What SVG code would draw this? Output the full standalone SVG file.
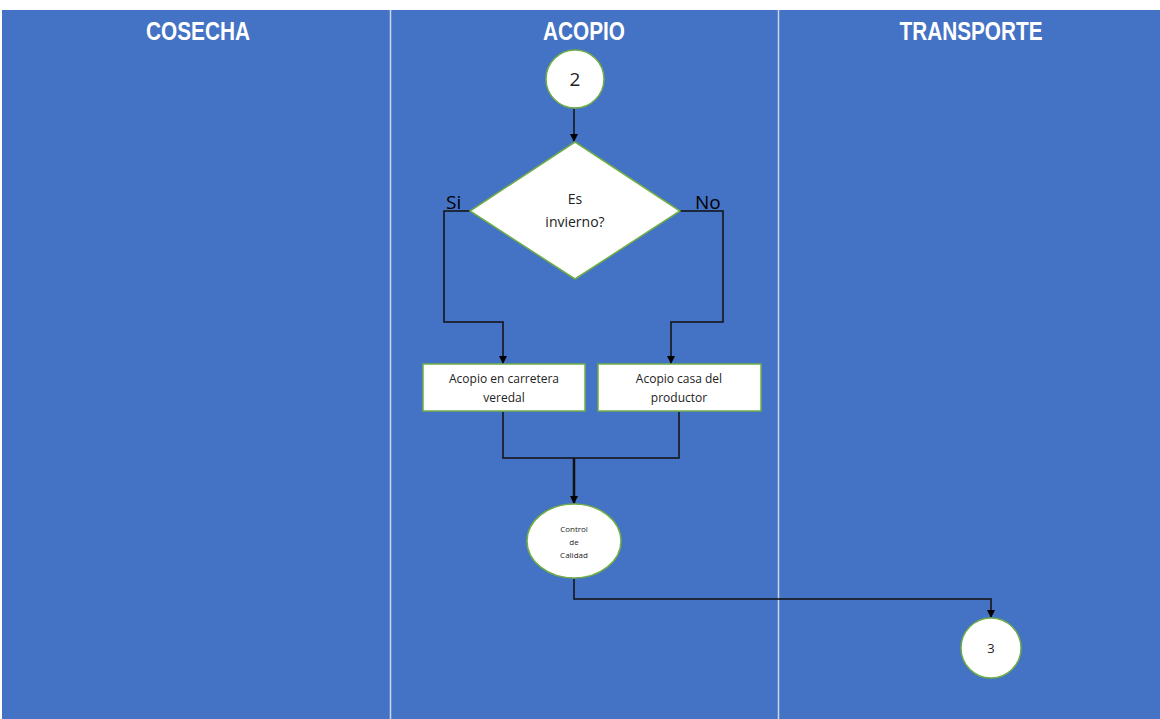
<svg xmlns="http://www.w3.org/2000/svg" width="1160" height="719" viewBox="0 0 1160 719">
<defs>
<marker id="arr" markerWidth="8" markerHeight="8" refX="7" refY="4" orient="auto" markerUnits="userSpaceOnUse">
<path d="M0,0 L8,4 L0,8 z" fill="#000"/>
</marker>
<style>
.hdr{font-family:"Liberation Sans",Arial,sans-serif;font-weight:bold;font-size:25px;fill:#fff;text-anchor:middle}
.shape{fill:#fff;stroke:#70AD47;stroke-width:1.5}
.t{font-family:"Open Sans","Noto Sans",sans-serif;fill:#222;text-anchor:middle}
.conn{fill:none;stroke:#111;stroke-width:1.5}
.lbl{font-family:"Open Sans","Noto Sans",sans-serif;font-size:19px;fill:#000}
</style>
</defs>
<rect x="0" y="0" width="1160" height="719" fill="#fff"/>
<rect x="2" y="10" width="1158" height="709" fill="#4472C4"/>
<line x1="390.5" y1="10" x2="390.5" y2="719" stroke="#c9d6ee" stroke-width="1.5"/>
<line x1="778.5" y1="10" x2="778.5" y2="719" stroke="#c9d6ee" stroke-width="1.5"/>
<text class="hdr" x="198" y="40" textLength="104" lengthAdjust="spacingAndGlyphs">COSECHA</text>
<text class="hdr" x="584" y="40" textLength="82" lengthAdjust="spacingAndGlyphs">ACOPIO</text>
<text class="hdr" x="971" y="40" textLength="143" lengthAdjust="spacingAndGlyphs">TRANSPORTE</text>
<g id="connectors">
<line class="conn" x1="574" y1="109" x2="574" y2="141" marker-end="url(#arr)"/>
<polyline class="conn" points="470,211 444,211 444,322 503,322 503,363" marker-end="url(#arr)"/>
<polyline class="conn" points="680,211 723,211 723,322 671,322 671,363" marker-end="url(#arr)"/>
<polyline class="conn" points="503,412 503,458 679,458 679,412"/>
<line x1="574" y1="458" x2="574" y2="503" stroke="#111" stroke-width="2.5" marker-end="url(#arr)"/>
<polyline class="conn" points="574,579 574,599 991,599 991,617" marker-end="url(#arr)"/>
<text class="lbl" x="446" y="209">Si</text>
<text class="lbl" x="695" y="209">No</text>
</g>
<g id="n2">
<circle class="shape" cx="575" cy="79" r="29"/>
<text class="t" x="575" y="86" font-size="19">2</text>
</g>
<g id="decision">
<polygon class="shape" points="575,142 680,211 575,279 470,211"/>
<text class="t" x="575" y="204" font-size="14">Es</text>
<text class="t" x="575" y="227" font-size="14">invierno?</text>
</g>
<g id="carretera">
<rect class="shape" x="423" y="364" width="162" height="47"/>
<text class="t" x="504" y="383" font-size="12">Acopio en carretera</text>
<text class="t" x="504" y="402" font-size="12">veredal</text>
</g>
<g id="casa">
<rect class="shape" x="598" y="364" width="163" height="47"/>
<text class="t" x="679" y="383" font-size="12">Acopio casa del</text>
<text class="t" x="679" y="402" font-size="12">productor</text>
</g>
<g id="control">
<ellipse class="shape" cx="574" cy="541" rx="47" ry="37"/>
<text class="t" x="574" y="532" font-size="8">Control</text>
<text class="t" x="574" y="545" font-size="8">de</text>
<text class="t" x="574" y="558" font-size="8">Calidad</text>
</g>
<g id="n3">
<circle class="shape" cx="991" cy="648" r="30"/>
<text class="t" x="991" y="653" font-size="13">3</text>
</g>
</svg>
